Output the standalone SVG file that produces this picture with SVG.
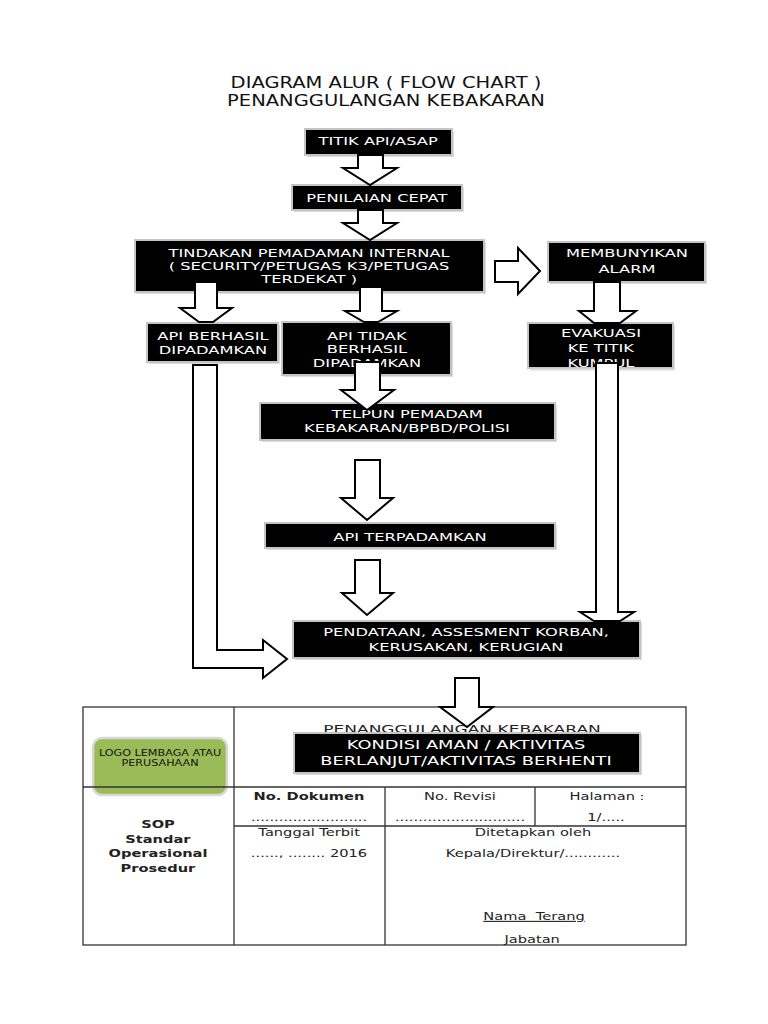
<svg xmlns="http://www.w3.org/2000/svg" width="768" height="1024" viewBox="0 0 768 1024">
<style>
.bg{fill:#fff}
.sh{fill:#dcdcdc}
.box{fill:#000;stroke:#c4c4c4;stroke-width:2}
.bt{font-family:"DejaVu Sans",Verdana,sans-serif;font-size:10.5px;fill:#fff;text-anchor:middle;transform-box:fill-box;transform-origin:center;transform:scaleX(1.55)}
.bt2{font-size:11.5px}
.title{font-family:"DejaVu Sans",Verdana,sans-serif;font-size:16px;fill:#111;text-anchor:middle;transform-box:fill-box;transform-origin:center;transform:scaleX(1.22)}
.tt{font-family:"DejaVu Sans",Verdana,sans-serif;font-size:11px;fill:#222;text-anchor:middle;transform-box:fill-box;transform-origin:center;transform:scaleX(1.33)}
.tb{font-weight:bold}
.th{font-family:"DejaVu Sans",Verdana,sans-serif;font-size:11px;fill:#222;text-anchor:middle;transform-box:fill-box;transform-origin:center;transform:scaleX(1.55)}
.logo{fill:#9bbb59;stroke:#d8d8d8;stroke-width:2.5}
.lt{font-family:"DejaVu Sans",Verdana,sans-serif;font-size:8px;fill:#111;text-anchor:middle;transform-box:fill-box;transform-origin:center;transform:scaleX(1.4)}
.tl{fill:none;stroke:#333;stroke-width:1.3}
.ar{fill:#fff;stroke:#000;stroke-width:2;stroke-linejoin:miter}
</style>
<rect class="bg" x="0" y="0" width="768" height="1024"/>

<g id="title">
<text class="title" x="386" y="88">DIAGRAM ALUR ( FLOW CHART )</text>
<text class="title" x="386" y="106">PENANGGULANGAN KEBAKARAN</text>
</g>

<g id="table">
<rect class="logo" x="93" y="738" width="134" height="57" rx="9"/>
<text class="lt" x="160" y="756">LOGO LEMBAGA ATAU</text>
<text class="lt" x="160" y="766">PERUSAHAAN</text>
<rect class="tl" x="83" y="707" width="603" height="238"/>
<line class="tl" x1="234" y1="707" x2="234" y2="945"/>
<line class="tl" x1="83" y1="787" x2="686" y2="787"/>
<line class="tl" x1="385" y1="787" x2="385" y2="945"/>
<line class="tl" x1="535" y1="787" x2="535" y2="826"/>
<line class="tl" x1="234" y1="826" x2="686" y2="826"/>
<text class="th" x="462" y="733">PENANGGULANGAN KEBAKARAN</text>
<text class="tt tb" x="158" y="828">SOP</text>
<text class="tt tb" x="158" y="843">Standar</text>
<text class="tt tb" x="158" y="857">Operasional</text>
<text class="tt tb" x="158" y="872">Prosedur</text>
<text class="tt tb" x="309" y="800">No. Dokumen</text>
<text class="tt" x="309" y="821">.........................</text>
<text class="tt" x="460" y="800">No. Revisi</text>
<text class="tt" x="460" y="821">............................</text>
<text class="tt" x="607" y="800">Halaman :</text>
<text class="tt" x="606" y="821">1/.....</text>
<text class="tt" x="309" y="836">Tanggal Terbit</text>
<text class="tt" x="309" y="857">......, ........ 2016</text>
<text class="tt" x="533" y="836">Ditetapkan oleh</text>
<text class="tt" x="533" y="857">Kepala/Direktur/............</text>
<text class="tt" x="534" y="920" text-decoration="underline">Nama&#160; Terang</text>
<text class="tt" x="532" y="943">Jabatan</text>
</g>

<g id="n-titik">
<rect class="sh" x="307" y="131" width="147" height="26"/>
<rect class="box" x="305" y="129" width="147" height="26"/>
<text class="bt" x="378" y="145">TITIK API/ASAP</text>
</g>
<g id="n-penilaian">
<rect class="sh" x="294" y="187" width="170" height="25"/>
<rect class="box" x="292" y="185" width="170" height="25"/>
<text class="bt" x="377" y="202">PENILAIAN CEPAT</text>
</g>
<g id="n-tindakan">
<rect class="sh" x="137" y="242" width="349" height="52"/>
<rect class="box" x="135" y="240" width="349" height="52"/>
<text class="bt" x="309" y="257">TINDAKAN PEMADAMAN INTERNAL</text>
<text class="bt" x="309" y="270">( SECURITY/PETUGAS K3/PETUGAS</text>
<text class="bt" x="309" y="283">TERDEKAT )</text>
</g>
<g id="n-alarm">
<rect class="sh" x="550" y="244" width="157" height="40"/>
<rect class="box" x="548" y="242" width="157" height="40"/>
<text class="bt" x="627" y="257">MEMBUNYIKAN</text>
<text class="bt" x="627" y="273">ALARM</text>
</g>
<g id="n-berhasil">
<rect class="sh" x="149" y="325" width="131" height="39"/>
<rect class="box" x="147" y="323" width="131" height="39"/>
<text class="bt" x="213" y="340">API BERHASIL</text>
<text class="bt" x="213" y="354">DIPADAMKAN</text>
</g>
<g id="n-tidak">
<rect class="sh" x="284" y="324" width="169" height="53"/>
<rect class="box" x="282" y="322" width="169" height="53"/>
<text class="bt" x="367" y="340">API TIDAK</text>
<text class="bt" x="367" y="353.5">BERHASIL</text>
<text class="bt" x="367" y="367">DIPADAMKAN</text>
</g>
<g id="n-evakuasi">
<rect class="sh" x="530" y="325" width="145" height="45"/>
<rect class="box" x="528" y="323" width="145" height="45"/>
<text class="bt" x="601" y="337">EVAKUASI</text>
<text class="bt" x="601" y="352">KE TITIK</text>
<text class="bt" x="601" y="367">KUMPUL</text>
<rect x="527" y="369" width="148" height="6" fill="#fff"/>
<line x1="530" y1="369.5" x2="675" y2="369.5" stroke="#dcdcdc" stroke-width="2"/>
</g>
<g id="n-telpun">
<rect class="sh" x="262" y="405" width="295" height="37"/>
<rect class="box" x="260" y="403" width="295" height="37"/>
<text class="bt" x="407" y="418">TELPUN PEMADAM</text>
<text class="bt" x="407" y="432">KEBAKARAN/BPBD/POLISI</text>
</g>
<g id="n-terpadamkan">
<rect class="sh" x="267" y="525" width="290" height="25"/>
<rect class="box" x="265" y="523" width="290" height="25"/>
<text class="bt" x="410" y="541">API TERPADAMKAN</text>
</g>
<g id="n-pendataan">
<rect class="sh" x="295" y="623" width="347" height="37"/>
<rect class="box" x="293" y="621" width="347" height="37"/>
<text class="bt" x="466" y="636">PENDATAAN, ASSESMENT KORBAN,</text>
<text class="bt" x="466" y="651">KERUSAKAN, KERUGIAN</text>
</g>
<g id="n-kondisi">
<rect class="sh" x="296" y="735" width="346" height="40"/>
<rect class="box" x="294" y="733" width="346" height="40"/>
<text class="bt bt2" x="466" y="749">KONDISI AMAN / AKTIVITAS</text>
<text class="bt bt2" x="466" y="765">BERLANJUT/AKTIVITAS BERHENTI</text>
</g>

<g id="connectors">
<polygon class="ar" points="358,155 383,155 383,168 397,168 370,185 343,168 358,168"/>
<polygon class="ar" points="358,210 383,210 383,223 397,223 370,240 343,223 358,223"/>
<polygon class="ar" points="195,282 217,282 217,308 232,308 213,322 199,322 180,308 195,308"/>
<polygon class="ar" points="360,287 382,287 382,311 397,311 378,322 364,322 345,311 360,311"/>
<polygon class="ar" points="495,261 518,261 518,248 540,271 518,294 518,282 495,282"/>
<polygon class="ar" points="594,282 620,282 620,311 636,311 620,323 594,323 579,311 594,311"/>
<polygon class="ar" points="596,363 618,363 618,612 634,612 620,621 594,621 580,612 596,612"/>
<polygon class="ar" points="355,362 380,362 380,390 394,390 367,410 341,390 355,390"/>
<polygon class="ar" points="355,460 380,460 380,498 393,498 367,520 341,498 355,498"/>
<polygon class="ar" points="355,560 380,560 380,593 393,593 367,615 342,593 355,593"/>
<polygon class="ar" points="193,365 217,365 217,650 263,650 263,640 287,659 263,678 263,668 193,668"/>
<polygon class="ar" points="455,678 479,678 479,707 493,707 467,727 440,707 455,707"/>
</g>
</svg>
